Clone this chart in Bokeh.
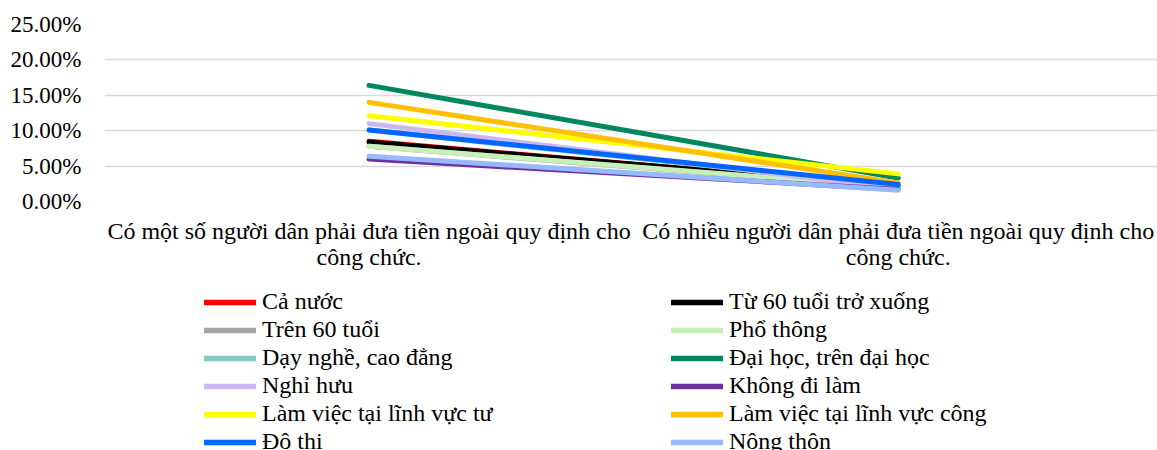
from bokeh.plotting import figure
from bokeh.layouts import column
from bokeh.models import (Range1d, FixedTicker, NumeralTickFormatter, Legend,
                          LegendItem, ColumnDataSource)
from bokeh.embed import file_html
from bokeh.resources import INLINE

# Two statements on informal payments to civil servants
categories = [
    "Có một số người dân phải đưa tiền ngoài quy định cho\ncông chức.",
    "Có nhiều người dân phải đưa tiền ngoài quy định cho\ncông chức.",
]

series_names = [
    "Cả nước", "Từ 60 tuổi trở xuống", "Trên 60 tuổi", "Phổ thông",
    "Dạy nghề, cao đẳng", "Đại học, trên đại học", "Nghỉ hưu", "Không đi làm",
    "Làm việc tại lĩnh vực tư", "Làm việc tại lĩnh vực công", "Đô thị", "Nông thôn",
]

# Share of respondents (fraction) for each statement
some_people = [0.085, 0.084, 0.078, 0.078, 0.101, 0.164, 0.110, 0.060,
               0.121, 0.140, 0.101, 0.064]
many_people = [0.021, 0.021, 0.019, 0.020, 0.022, 0.033, 0.018, 0.017,
               0.039, 0.026, 0.024, 0.016]

colors = ["#FF0000", "#000000", "#A5A5A5", "#C9EFB9", "#80CBC4", "#00875F",
          "#CBB8EE", "#7030A0", "#FFFF00", "#FFC000", "#0066FF", "#97B9FF"]

y_ticks = [0.0, 0.05, 0.10, 0.15, 0.20, 0.25]

FONT = "Liberation Serif"

# ---- chart -------------------------------------------------------------
p = figure(width=1157, height=280, output_backend="svg",
           toolbar_location=None,
           x_range=Range1d(-0.5, 1.49), y_range=Range1d(0, 0.25),
           min_border_left=104, min_border_right=0, min_border_top=24,
           min_border_bottom=79)
p.outline_line_color = None
p.background_fill_color = "white"
p.border_fill_color = "white"

p.yaxis.ticker = FixedTicker(ticks=y_ticks)
p.yaxis.formatter = NumeralTickFormatter(format="0.00%")
p.yaxis.axis_line_color = None
p.yaxis.major_tick_line_color = None
p.yaxis.minor_tick_line_color = None
p.yaxis.major_tick_out = 0
p.yaxis.major_tick_in = 0
p.yaxis.major_label_standoff = 23
p.yaxis.major_label_text_font = FONT
p.yaxis.major_label_text_font_size = "23px"
p.yaxis.major_label_text_color = "#000000"

xs = list(range(len(categories)))
p.xaxis.ticker = FixedTicker(ticks=xs)
p.xaxis.major_label_overrides = {i: c for i, c in zip(xs, categories)}
p.xaxis.axis_line_color = None
p.xaxis.major_tick_line_color = None
p.xaxis.minor_tick_line_color = None
p.xaxis.major_tick_out = 0
p.xaxis.major_tick_in = 0
p.xaxis.major_label_standoff = 16
p.xaxis.major_label_text_font = FONT
p.xaxis.major_label_text_font_size = "24px"
p.xaxis.major_label_text_color = "#000000"
p.xaxis.major_label_text_line_height = 1.02

p.xgrid.grid_line_color = None
p.ygrid.grid_line_color = "#D9D9D9"
p.ygrid.grid_line_width = 1.5

sources = []
for a, b, c in zip(some_people, many_people, colors):
    src = ColumnDataSource(dict(x=xs, y=[a, b]))
    sources.append(src)
    p.line("x", "y", source=src, line_color=c, line_width=5,
           line_cap="round", line_join="round")

# ---- legend panel underneath (its own ranges keep the lines out of view) --
lf = figure(width=1157, height=170, output_backend="svg",
            toolbar_location=None, x_range=Range1d(5, 6), y_range=Range1d(5, 6),
            min_border=0)
lf.axis.visible = False
lf.grid.visible = False
lf.outline_line_color = None

items = []
for name, src, c in zip(series_names, sources, colors):
    r = lf.line("x", "y", source=src, line_color=c, line_width=5.5,
                line_cap="round")
    items.append(LegendItem(label=name, renderers=[r]))

legend = Legend(items=items, orientation="horizontal", ncols=2,
                location=(100, -5), padding=0, margin=0, spacing=1,
                glyph_width=52, glyph_height=26, label_standoff=6,
                label_width=408, label_height=26,
                label_text_font=FONT, label_text_font_size="24px",
                label_text_color="#000000",
                border_line_color=None, background_fill_alpha=0)
lf.add_layout(legend)

open("out.html", "w").write(file_html(column(p, lf, spacing=0), INLINE))
